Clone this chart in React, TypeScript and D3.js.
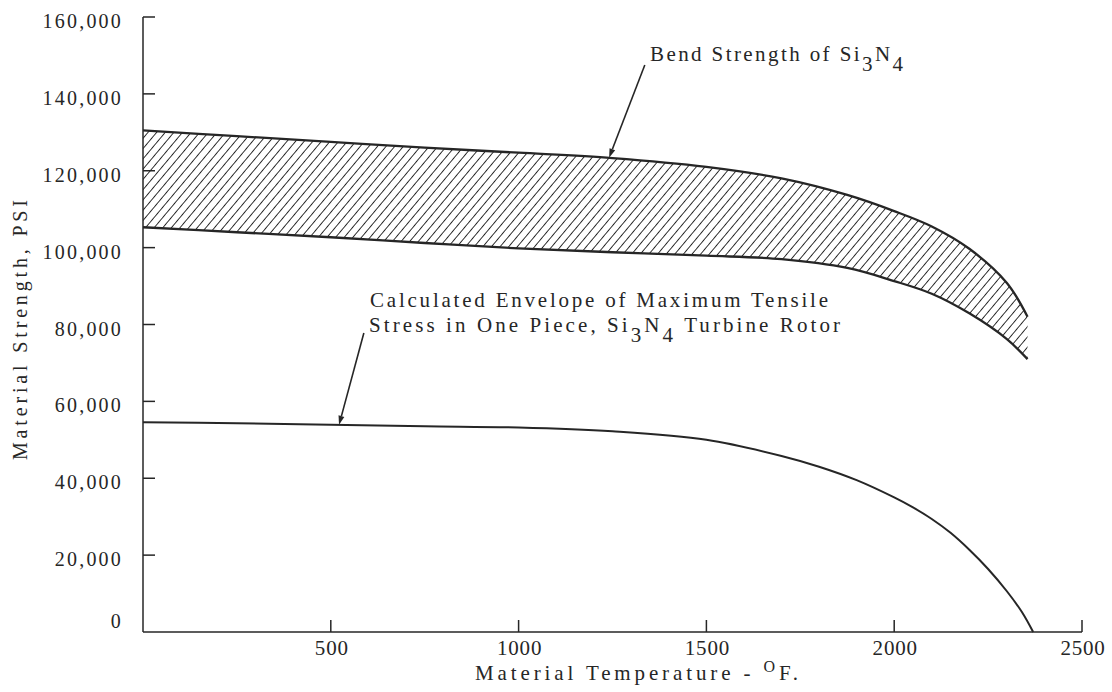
import React from "react";
import * as d3 from "d3";

const xTicks = [500, 1000, 1500, 2000, 2500];
const yTicks = [0, 20000, 40000, 60000, 80000, 100000, 120000, 140000, 160000];
const yTickLabels = ["0", "20,000", "40,000", "60,000", "80,000", "100,000", "120,000", "140,000", "160,000"];

const bendTemps = [0, 250, 500, 750, 1000, 1250, 1500, 1700, 1875, 2000, 2100, 2200, 2300, 2355];
const bendUpper = [130500, 129000, 127500, 126000, 124700, 123300, 121000, 118000, 113700, 109500, 105500, 99700, 90800, 82000];
const bendLower = [105300, 104000, 102700, 101200, 99800, 98800, 97900, 97000, 94700, 91300, 88000, 82900, 76200, 71000];

const tensileTemps = [0, 250, 500, 750, 1000, 1250, 1500, 1700, 1800, 1900, 2000, 2050, 2100, 2150, 2200, 2250, 2300, 2340, 2370];
const tensileStress = [54600, 54300, 53900, 53500, 53200, 52200, 50000, 45800, 43000, 39500, 35000, 32400, 29400, 25800, 21400, 16400, 10600, 5200, 0];

// annotation arrows [tailTemp, tailValue, tipTemp, tipValue]
const bendArrow = [1336, 147500, 1241, 123400];
const tensileArrow = [588, 77800, 522, 53900];

const W = 1112;
const H = 692;
const ink = "#262626";
const FONT = "'Liberation Serif', 'Times New Roman', serif";

export default function App() {
  const x = d3.scaleLinear().domain([0, 2500]).range([143, 1082]);
  const y = d3.scaleLinear().domain([0, 160000]).range([632, 17]);

  const curve = d3.curveCatmullRom.alpha(0.5);
  const bandData = bendTemps.map((t, i) => ({ t, u: bendUpper[i], l: bendLower[i] }));
  const area = d3
    .area<any>()
    .x((d) => x(d.t))
    .y0((d) => y(d.l))
    .y1((d) => y(d.u))
    .curve(curve);
  const upperLine = d3
    .line<any>()
    .x((d) => x(d.t))
    .y((d) => y(d.u))
    .curve(curve);
  const lowerLine = d3
    .line<any>()
    .x((d) => x(d.t))
    .y((d) => y(d.l))
    .curve(curve);
  const tensileLine = d3
    .line<number>()
    .x((_, i) => x(tensileTemps[i]))
    .y((d) => y(d))
    .curve(curve);

  const arrow = (a: number[]) => {
    const x1 = x(a[0]), y1 = y(a[1]), x2 = x(a[2]), y2 = y(a[3]);
    const ang = Math.atan2(y2 - y1, x2 - x1);
    const L = 9, Wd = 3;
    const bx = x2 - L * Math.cos(ang), by = y2 - L * Math.sin(ang);
    const px = -Math.sin(ang) * Wd, py = Math.cos(ang) * Wd;
    return (
      <g>
        <line x1={x1} y1={y1} x2={bx} y2={by} stroke={ink} strokeWidth={1.6} />
        <path d={`M${x2},${y2}L${bx + px},${by + py}L${bx - px},${by - py}Z`} fill={ink} />
      </g>
    );
  };

  return (
    <svg
      width={W}
      height={H}
      style={{ position: "absolute", left: 0, top: 0, background: "#fff" }}
      fontFamily={FONT}
    >
      <defs>
        <pattern id="hatch" width={6.6} height={10} patternUnits="userSpaceOnUse" patternTransform="rotate(40)">
          <line x1={0} y1={-1} x2={0} y2={11} stroke={ink} strokeWidth={1.9} />
        </pattern>
      </defs>
      <rect width={W} height={H} fill="#fff" />

      {/* axes */}
      <line x1={x(0)} y1={y(0)} x2={x(2500)} y2={y(0)} stroke={ink} strokeWidth={1.5} />
      <line x1={x(0)} y1={y(0)} x2={x(0)} y2={y(160000)} stroke={ink} strokeWidth={1.5} />
      {xTicks.map((t) => (
        <g key={"xt" + t}>
          <line x1={x(t)} y1={y(0)} x2={x(t)} y2={y(0) - 12} stroke={ink} strokeWidth={1.5} />
          <text x={x(t) + 1} y={655} textAnchor="middle" fontSize={21} letterSpacing={0.8} fill={ink}>
            {t}
          </text>
        </g>
      ))}
      {yTicks.map((v, i) => (
        <g key={"yt" + v}>
          {v > 0 && <line x1={x(0)} y1={y(v)} x2={x(0) + 12} y2={y(v)} stroke={ink} strokeWidth={1.5} />}
          <text x={123} y={y(v) + (v === 0 ? -4 : 11)} textAnchor="end" fontSize={20} letterSpacing={2.2} fill={ink}>
            {yTickLabels[i]}
          </text>
        </g>
      ))}

      {/* band */}
      <path d={area(bandData) || ""} fill="url(#hatch)" />
      <path d={upperLine(bandData) || ""} fill="none" stroke={ink} strokeWidth={2.3} />
      <path d={lowerLine(bandData) || ""} fill="none" stroke={ink} strokeWidth={2.3} />

      {/* tensile envelope */}
      <path d={tensileLine(tensileStress) || ""} fill="none" stroke={ink} strokeWidth={2} />

      {arrow(bendArrow)}
      {arrow(tensileArrow)}

      {/* annotations */}
      <text x={650} y={61} fontSize={21} fill={ink} textLength={253} lengthAdjust="spacing">
        Bend Strength of Si
        <tspan dy={10}>3</tspan>
        <tspan dy={-10}>N</tspan>
        <tspan dy={10}>4</tspan>
      </text>
      <text x={370} y={307} fontSize={21} fill={ink} textLength={458} lengthAdjust="spacing">
        Calculated Envelope of Maximum Tensile
      </text>
      <text x={369} y={332} fontSize={21} fill={ink} textLength={471} lengthAdjust="spacing">
        Stress in One Piece, Si
        <tspan dy={10}>3</tspan>
        <tspan dy={-10}>N</tspan>
        <tspan dy={10}>4</tspan>
        <tspan dy={-10}> Turbine Rotor</tspan>
      </text>

      {/* axis titles */}
      <text x={475} y={680} fontSize={21} fill={ink} textLength={323} lengthAdjust="spacing">
        Material Temperature -{" "}
        <tspan fontSize={16} dy={-8}>O</tspan>
        <tspan dy={8}>F.</tspan>
      </text>
      <text
        transform="translate(27,460) rotate(-90)"
        x={0}
        y={0}
        fontSize={20}
        fill={ink}
        textLength={260}
        lengthAdjust="spacing"
      >
        Material Strength, PSI
      </text>
    </svg>
  );
}
